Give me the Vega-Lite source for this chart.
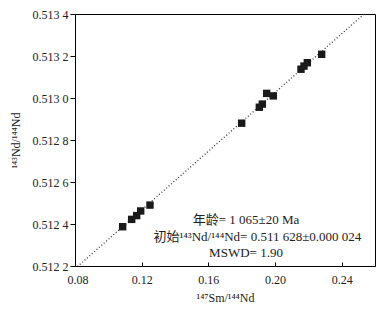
{
  "$schema": "https://vega.github.io/schema/vega-lite/v6.json",
  "width": 300,
  "height": 252,
  "autosize": {"type": "none"},
  "padding": {"left": 75, "top": 14, "right": 10, "bottom": 44},
  "background": "white",
  "config": {
    "font": "Liberation Serif",
    "view": {"stroke": "#000", "strokeWidth": 1},
    "axis": {"grid": false, "domainColor": "#000", "tickColor": "#000", "labelColor": "#222", "titleColor": "#222", "labelFont": "Liberation Serif", "titleFont": "Liberation Serif", "labelFontSize": 12, "titleFontSize": 12, "titleFontWeight": "normal"}
  },
  "datasets": {
    "pts": [
      {"sm": 0.1086, "nd": 0.512387},
      {"sm": 0.1140, "nd": 0.512422},
      {"sm": 0.1170, "nd": 0.512440},
      {"sm": 0.1194, "nd": 0.512462},
      {"sm": 0.1250, "nd": 0.512490},
      {"sm": 0.1800, "nd": 0.512880},
      {"sm": 0.1906, "nd": 0.512956},
      {"sm": 0.1924, "nd": 0.512971},
      {"sm": 0.1950, "nd": 0.513022},
      {"sm": 0.1990, "nd": 0.513010},
      {"sm": 0.2156, "nd": 0.513137},
      {"sm": 0.2174, "nd": 0.513152},
      {"sm": 0.2194, "nd": 0.513168},
      {"sm": 0.2280, "nd": 0.513208}
    ],
    "iso": [
      {"sm": 0.08, "nd": 0.512187},
      {"sm": 0.2535, "nd": 0.5134}
    ],
    "notes": [
      {"label": "年龄= 1 065±20 Ma"},
      {"label": "初始¹⁴³Nd/¹⁴⁴Nd= 0.511 628±0.000 024"},
      {"label": "MSWD= 1.90"}
    ]
  },
  "layer": [
    {
      "data": {"name": "iso"},
      "mark": {"type": "line", "color": "#333", "strokeWidth": 1.3, "strokeDash": [1, 2.2], "clip": true},
      "encoding": {
        "x": {"field": "sm", "type": "quantitative",
          "scale": {"domain": [0.08, 0.26], "nice": false, "zero": false},
          "axis": {"values": [0.08, 0.12, 0.16, 0.20, 0.24], "format": ".2f", "tickSize": -4, "labelPadding": 12, "labelFlush": true, "labelFlushOffset": 8, "title": "¹⁴⁷Sm/¹⁴⁴Nd", "titlePadding": 7}},
        "y": {"field": "nd", "type": "quantitative",
          "scale": {"domain": [0.5122, 0.5134], "nice": false, "zero": false},
          "axis": {"values": [0.5122, 0.5124, 0.5126, 0.5128, 0.513, 0.5132, 0.5134],
            "labelExpr": "slice(format(datum.value, '.4f'), 0, 5) + ' ' + slice(format(datum.value, '.4f'), 5)",
            "tickSize": 5, "labelPadding": 2, "title": "¹⁴³Nd/¹⁴⁴Nd", "titlePadding": 10}}
      }
    },
    {
      "data": {"name": "pts"},
      "mark": {"type": "point", "shape": "square", "filled": true, "color": "#1a1a1a", "opacity": 1, "size": 55},
      "encoding": {
        "x": {"field": "sm", "type": "quantitative"},
        "y": {"field": "nd", "type": "quantitative"}
      }
    },
    {
      "data": {"name": "notes"},
      "transform": [{"filter": "datum.label == '年龄= 1 065±20 Ma'"}],
      "mark": {"type": "text", "fontSize": 13, "color": "#222", "align": "center", "baseline": "middle", "font": "Liberation Serif, Noto Sans CJK SC"},
      "encoding": {
        "x": {"datum": 0.1826, "type": "quantitative"},
        "y": {"datum": 0.512419, "type": "quantitative"},
        "text": {"field": "label"}
      }
    },
    {
      "data": {"name": "notes"},
      "transform": [{"filter": "indexof(datum.label, '初始') == 0"}],
      "mark": {"type": "text", "fontSize": 13, "color": "#222", "align": "center", "baseline": "middle", "font": "Liberation Serif, Noto Sans CJK SC"},
      "encoding": {
        "x": {"datum": 0.1894, "type": "quantitative"},
        "y": {"datum": 0.512340, "type": "quantitative"},
        "text": {"field": "label"}
      }
    },
    {
      "data": {"name": "notes"},
      "transform": [{"filter": "datum.label == 'MSWD= 1.90'"}],
      "mark": {"type": "text", "fontSize": 13, "color": "#222", "align": "center", "baseline": "middle", "font": "Liberation Serif, Noto Sans CJK SC"},
      "encoding": {
        "x": {"datum": 0.1826, "type": "quantitative"},
        "y": {"datum": 0.512263, "type": "quantitative"},
        "text": {"field": "label"}
      }
    }
  ]
}
